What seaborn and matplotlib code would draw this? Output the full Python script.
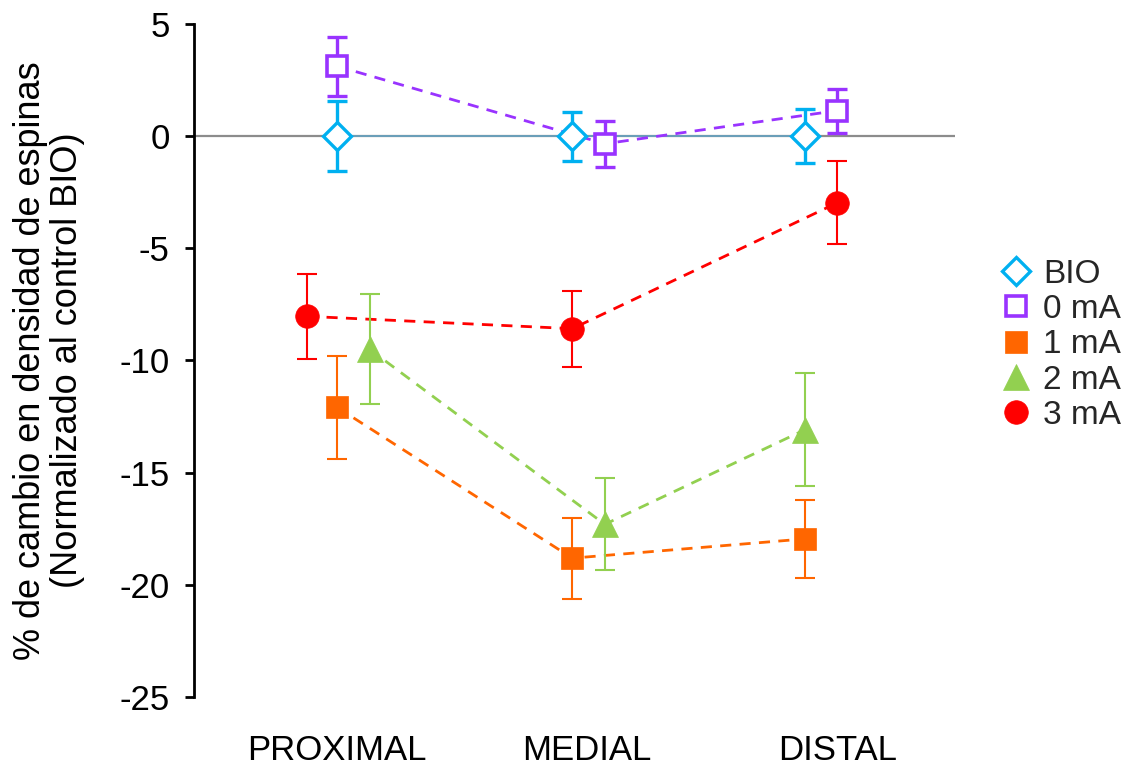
import matplotlib
matplotlib.use("Agg")
import matplotlib.pyplot as plt
from matplotlib.lines import Line2D
import seaborn as sns
import pandas as pd

# ---- data ----
regions = ["PROXIMAL", "MEDIAL", "DISTAL"]
series = ["BIO", "0 mA", "1 mA", "2 mA", "3 mA"]
bio_vals = [0.0, 0.0, 0.0]
bio_err = [1.56, 1.08, 1.21]
ma0_vals = [3.13, -0.33, 1.15]
ma0_err = [1.32, 1.02, 0.98]
ma1_vals = [-12.09, -18.82, -17.96]
ma1_err = [2.31, 1.81, 1.73]
ma2_vals = [-9.5, -17.31, -13.09]
ma2_err = [2.46, 2.05, 2.53]
ma3_vals = [-8.03, -8.58, -2.96]
ma3_err = [1.91, 1.70, 1.85]
y_ticks = [5, 0, -5, -10, -15, -20, -25]

values = [bio_vals, ma0_vals, ma1_vals, ma2_vals, ma3_vals]
errors = [bio_err, ma0_err, ma1_err, ma2_err, ma3_err]

# horizontal dodge of each series within a region (style)
offsets = {
    "BIO": [0.0, -0.06, -0.13],
    "0 mA": [0.0, 0.07, 0.0],
    "1 mA": [0.0, -0.06, -0.13],
    "2 mA": [0.13, 0.07, -0.13],
    "3 mA": [-0.12, -0.06, 0.0],
}

rows = []
for s, vals, errs in zip(series, values, errors):
    for i, (r, v, e) in enumerate(zip(regions, vals, errs)):
        rows.append({"series": s, "region": r, "pos": i + 1 + offsets[s][i],
                     "value": v, "err": e})
df = pd.DataFrame(rows)

styles = {
    "BIO": dict(color="#00b0f0", marker="D", ms=14.5, mfc="white", mew=2.4,
                ls="-", lw=1.4, line_color="#6a9fba", elw=2.4),
    "0 mA": dict(color="#9933ff", marker="s", ms=14, mfc="white", mew=2.6,
                 ls=(0, (4, 3)), lw=2.0, line_color="#9933ff", elw=2.4),
    "1 mA": dict(color="#ff6600", marker="s", ms=15.5, mfc="#ff6600", mew=0.5,
                 ls=(0, (4, 3)), lw=2.0, line_color="#ff6600", elw=1.5),
    "2 mA": dict(color="#92d050", marker="^", ms=19, mfc="#92d050", mew=0.5,
                 ls=(0, (4, 3)), lw=2.0, line_color="#92d050", elw=1.5),
    "3 mA": dict(color="#ff0000", marker="o", ms=17, mfc="#ff0000", mew=0.5,
                 ls=(0, (4, 3)), lw=2.0, line_color="#ff0000", elw=1.5),
}

sns.set_theme(style="white")
plt.rcParams["font.family"] = ["Liberation Sans", "DejaVu Sans"]

fig = plt.figure(figsize=(11.3, 7.67), dpi=100)
ax = fig.add_axes([0.1717, 0.0917, 0.6735, 0.8766])

ax.axhline(0, color="#8c8c8c", lw=1.6, zorder=1)

for s in series:
    st = styles[s]
    sub = df[df["series"] == s]
    # connecting line
    sns.lineplot(data=sub, x="pos", y="value", ax=ax, color=st["line_color"],
                 linestyle=st["ls"], lw=st["lw"], errorbar=None, sort=False,
                 legend=False, zorder=2)
    # error bars
    ax.errorbar(sub["pos"], sub["value"], yerr=sub["err"], fmt="none",
                ecolor=st["color"], elinewidth=st["elw"], capsize=7.5,
                capthick=st["elw"], zorder=3)
    # markers
    sns.lineplot(data=sub, x="pos", y="value", ax=ax, color=st["color"],
                 linestyle="none", marker=st["marker"], markersize=st["ms"],
                 markerfacecolor=st["mfc"], markeredgecolor=st["color"],
                 markeredgewidth=st["mew"], errorbar=None, sort=False,
                 legend=False, zorder=4)

ax.set_xlim(0.428, 3.47)
ax.set_ylim(-25, 5)
ax.set_yticks(y_ticks)
ax.set_yticklabels([str(t) for t in y_ticks])
ax.set_xticks([1, 2, 3])
ax.set_xticklabels(regions)
ax.set_xlabel("")
ax.set_ylabel("% de cambio en densidad de espinas\n(Normalizado al control BIO)",
              fontsize=26, linespacing=1.08, color="black")
ax.yaxis.set_label_coords(-0.143, 0.5)

for side in ["top", "right", "bottom"]:
    ax.spines[side].set_visible(False)
ax.spines["left"].set_color("black")
ax.spines["left"].set_linewidth(2.0)
ax.tick_params(axis="y", direction="out", length=6.5, width=2.0,
               labelsize=25, pad=11, colors="black", left=True)
ax.tick_params(axis="x", length=0, labelsize=25, pad=27, colors="black")
ax.grid(False)
ax.set_facecolor("white")

handles = []
for s in series:
    st = styles[s]
    handles.append(Line2D([], [], linestyle="none", marker=st["marker"],
                          markersize=st["ms"], markerfacecolor=st["mfc"],
                          markeredgecolor=st["color"],
                          markeredgewidth=st["mew"]))
fig.legend(handles, series, loc="upper left", bbox_to_anchor=(0.873, 0.680),
           frameon=False, fontsize=24, handlelength=1.0, handletextpad=0.3,
           labelspacing=0.13, borderaxespad=0)

fig.savefig("out.png", dpi=100, facecolor="white")
